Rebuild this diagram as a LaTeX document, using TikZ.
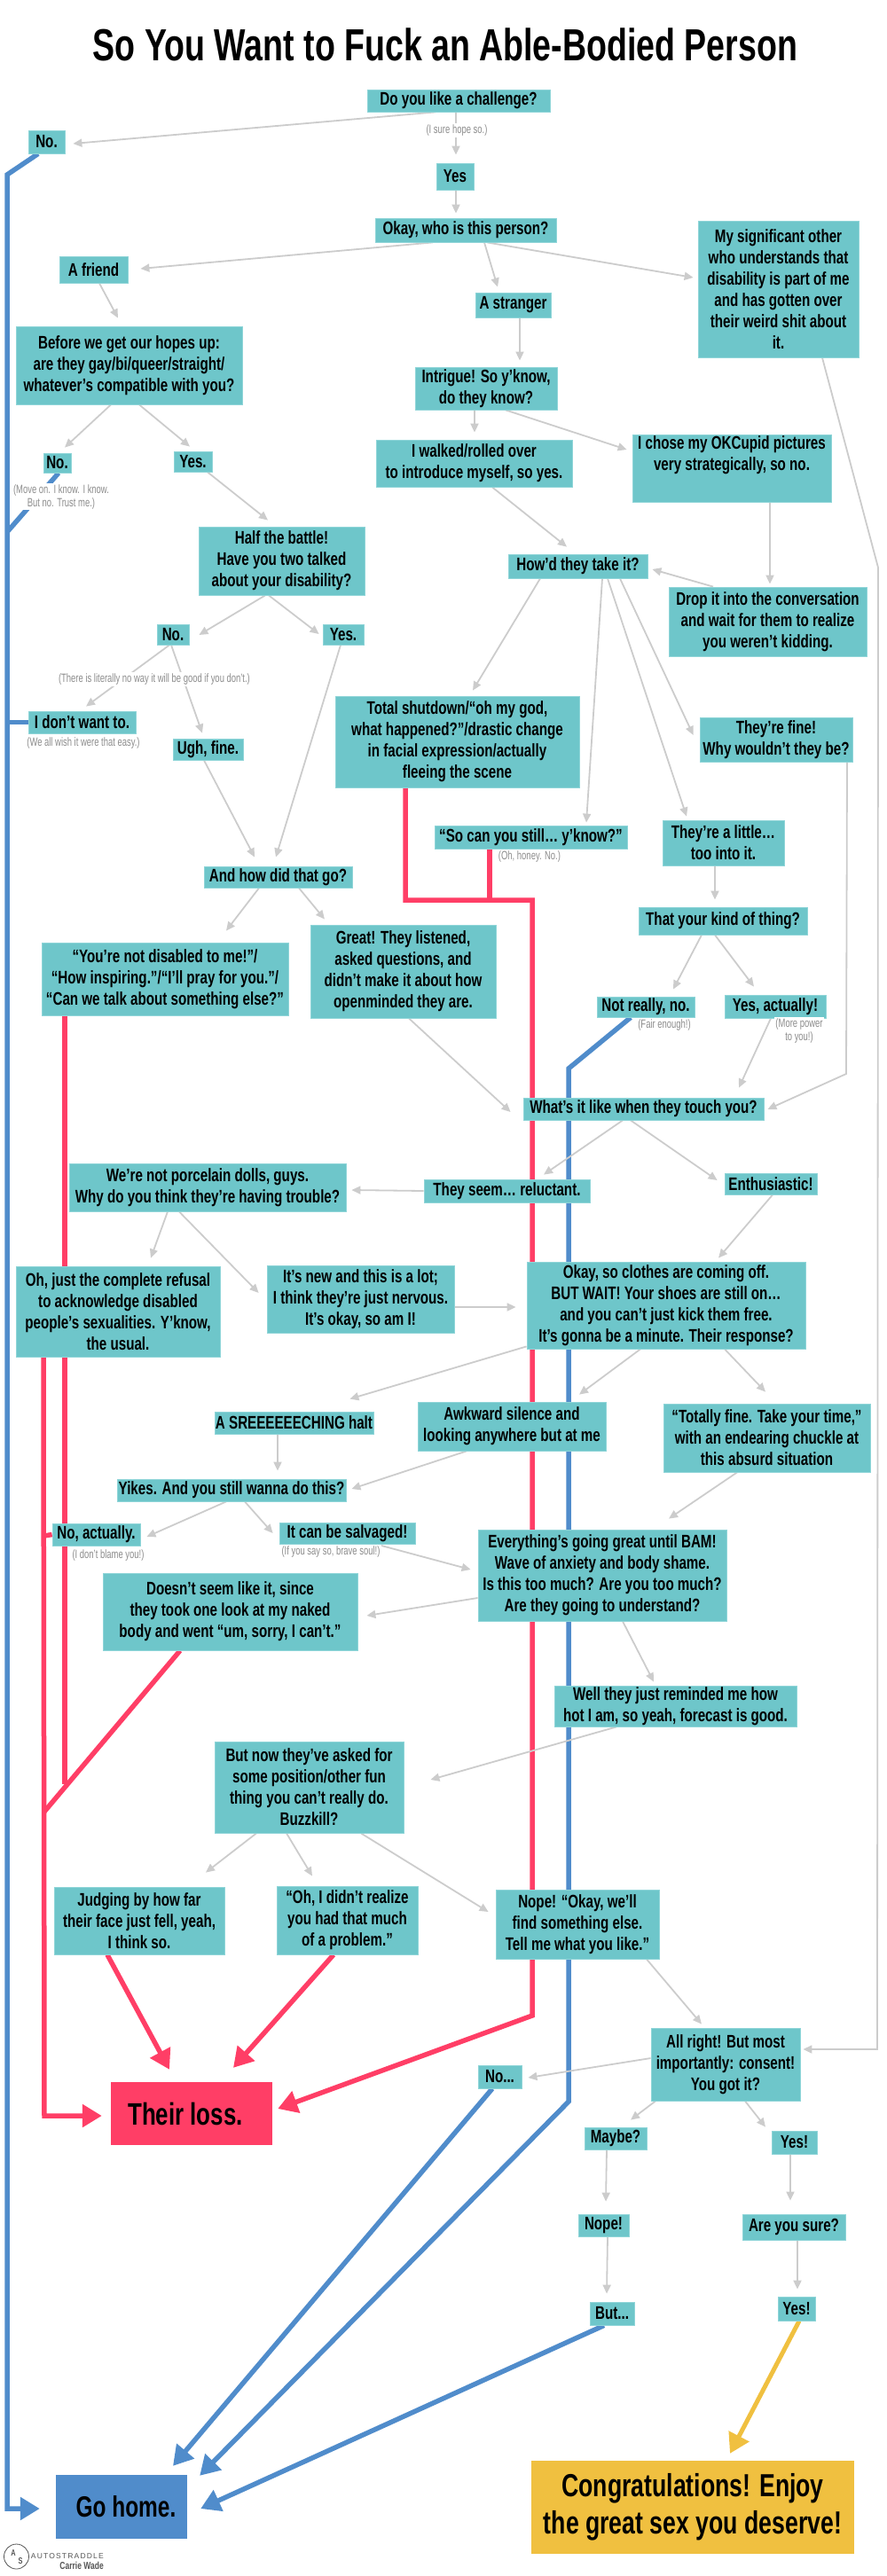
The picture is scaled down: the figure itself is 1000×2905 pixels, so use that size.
\documentclass[tikz,border=0pt]{standalone}
\usepackage{fontspec}
\setmainfont{Liberation Sans}[UprightFont=* Bold,FakeStretch=0.74]
\newfontfamily\notefont{Liberation Sans}[FakeStretch=0.7]
\newfontfamily\brandfont{Liberation Sans}[LetterSpace=14]
\usetikzlibrary{arrows.meta,backgrounds}
\definecolor{tealx}{HTML}{6EC6CA}
\definecolor{edgex}{HTML}{8FD5D8}
\definecolor{greyx}{HTML}{CCCCCC}
\definecolor{bluex}{HTML}{508CCB}
\definecolor{pinkx}{HTML}{FF3E66}
\definecolor{goldx}{HTML}{F0C040}
\definecolor{notex}{HTML}{8C8C8C}
\definecolor{logox}{HTML}{555555}
\tikzset{
  wh/.style 2 args={minimum width=#1,minimum height=#2},
  box/.style={fill=tealx,draw=edgex,line width=0.8pt,inner sep=0pt,align=center,font=\fontsize{20.5}{24}\selectfont},
  big/.style={inner sep=0pt,align=center,font=\fontsize{35}{42}\selectfont},
  note/.style={fill=white,inner sep=1.5pt,align=center,text=notex,font=\notefont\fontsize{13.5}{15}\selectfont},
  ar/.style={-{Triangle[length=10pt,width=9pt]},line width=1.8pt,greyx},
  blueline/.style={line width=5.5pt,bluex},
  pinkline/.style={line width=5.5pt,pinkx},
  blueend/.style={blueline,-{Triangle[length=22pt,width=25pt]}},
  pinkend/.style={pinkline,-{Triangle[length=22pt,width=25pt]}},
  goldend/.style={line width=5pt,goldx,-{Triangle[length=22pt,width=25pt]}}
}
\begin{document}
\begin{tikzpicture}[x=1pt,y=-1pt]
\useasboundingbox (0,0) rectangle (1000,2905);
\node[inner sep=0pt,font=\fontsize{50.7}{56}\selectfont] (title) at (502,50) {So You Want to Fuck an Able-Bodied Person};
% top
\node[box,wh={206}{25}] (challenge) at (517,113.5) {Do you like a challenge?};
\node[box,wh={41}{26}] (no1) at (52.5,160) {No.};
\node[box,wh={42}{30}] (yes1) at (513,199) {Yes};
\node[box,wh={204}{27}] (okay) at (525,259.5) {Okay, who is this person?};
\node[box,wh={77}{30}] (friend) at (105.5,304) {A friend};
\node[box,wh={181}{154}] (sig) at (877.5,326) {My significant other\\who understands that\\disability is part of me\\and has gotten over\\their weird shit about\\it.};
\node[box,wh={85}{28}] (stranger) at (578.5,344) {A stranger};
\node[box,wh={255}{88}] (before) at (145.5,412) {Before we get our hopes up:\\are they gay/bi/queer/straight/\\whatever’s compatible with you?};
\node[box,wh={160}{48}] (intrigue) at (548,438) {Intrigue! So y’know,\\do they know?};
\node[box,wh={31}{22}] (no2) at (64.5,522) {No.};
\node[box,wh={43}{23}] (yes2) at (217.5,520.5) {Yes.};
\node[box,wh={221}{53}] (walked) at (534.5,522.5) {I walked/rolled over\\to introduce myself, so yes.};
\node[box,wh={224}{76}] (okc) at (825,528) {I chose my OKCupid pictures\\very strategically, so no.\\[10pt]};
% middle
\node[box,wh={187}{77}] (half) at (317.5,632.5) {Half the battle!\\Have you two talked\\about your disability?};
\node[box,wh={157}{27}] (hows) at (651.5,638.5) {How’d they take it?};
\node[box,wh={223}{78}] (drop) at (865.5,701) {Drop it into the conversation\\and wait for them to realize\\you weren’t kidding.};
\node[box,wh={36}{23}] (no3) at (195,715.5) {No.};
\node[box,wh={46}{23}] (yes3) at (387,715.5) {Yes.};
\node[box,wh={121}{25}] (idont) at (92.5,814.5) {I don’t want to.};
\node[box,wh={79}{24}] (ugh) at (234.5,845) {Ugh, fine.};
\node[box,wh={275}{103}] (total) at (515.5,836.5) {Total shutdown/“oh my god,\\what happened?”/drastic change\\in facial expression/actually\\fleeing the scene};
\node[box,wh={172}{50}] (fine) at (875,834) {They’re fine!\\Why wouldn’t they be?};
\node[box,wh={217}{26}] (socan) at (598.5,944) {“So can you still… y’know?”};
\node[box,wh={137}{51}] (little) at (815.5,950.5) {They’re a little…\\too into it.};
\node[box,wh={167}{24}] (andhow) at (313.5,989) {And how did that go?};
\node[box,wh={209}{105}] (great) at (454.5,1095.5) {Great! They listened,\\asked questions, and\\didn’t make it about how\\openminded they are.};
\node[box,wh={278}{82}] (notdis) at (186,1104) {“You’re not disabled to me!”/\\“How inspiring.”/“I’ll pray for you.”/\\“Can we talk about something else?”};
\node[box,wh={190}{31}] (kind) at (815,1038.5) {That your kind of thing?};
\node[box,wh={110}{23}] (notreally) at (728,1135.5) {Not really, no.};
\node[box,wh={114}{26}] (yesact) at (874,1135) {Yes, actually!};
\node[box,wh={271}{25}] (touch) at (725.5,1250.5) {What’s it like when they touch you?};
\node[box,wh={187}{26}] (reluct) at (571.5,1343) {They seem… reluctant.};
\node[box,wh={312}{54}] (porcelain) at (234,1339) {We’re not porcelain dolls, guys.\\Why do you think they’re having trouble?};
\node[box,wh={104}{24}] (enth) at (869,1335) {Enthusiastic!};
\node[box,wh={230}{102}] (refusal) at (133,1479) {Oh, just the complete refusal\\to acknowledge disabled\\people’s sexualities. Y’know,\\the usual.};
\node[box,wh={211}{76}] (new) at (406.5,1465) {It’s new and this is a lot;\\I think they’re just nervous.\\It’s okay, so am I!};
\node[box,wh={314}{98}] (clothes) at (751,1472) {Okay, so clothes are coming off.\\BUT WAIT! Your shoes are still on…\\and you can’t just kick them free.\\It’s gonna be a minute. Their response?};
\node[box,wh={179}{25}] (halt) at (331.5,1604.5) {A SREEEEEECHING halt};
\node[box,wh={212}{55}] (awkward) at (577,1608.5) {Awkward silence and\\looking anywhere but at me};
\node[box,wh={233}{77}] (totally) at (864.5,1621.5) {“Totally fine. Take your time,”\\with an endearing chuckle at\\this absurd situation};
\node[box,wh={258}{25}] (yikes) at (261,1680.5) {Yikes. And you still wanna do this?};
\node[box,wh={99}{25}] (noactual) at (108.5,1730.5) {No, actually.};
\node[box,wh={153}{24}] (salvage) at (391.5,1729) {It can be salvaged!};
\node[box,wh={280}{103}] (everything) at (679,1776.5) {Everything’s going great until BAM!\\Wave of anxiety and body shame.\\Is this too much? Are you too much?\\Are they going to understand?};
\node[box,wh={287}{87}] (doesnt) at (259.5,1817.5) {Doesn’t seem like it, since\\they took one look at my naked\\body and went “um, sorry, I can’t.”};
\node[box,wh={273}{46}] (well) at (761.5,1924) {Well they just reminded me how\\hot I am, so yeah, forecast is good.};
\node[box,wh={213}{103}] (now) at (348.5,2015.5) {But now they’ve asked for\\some position/other fun\\thing you can’t really do.\\Buzzkill?};
\node[box,wh={192}{76}] (judging) at (157,2166) {Judging by how far\\their face just fell, yeah,\\I think so.};
\node[box,wh={159}{77}] (ohdidnt) at (391.5,2165.5) {“Oh, I didn’t realize\\you had that much\\of a problem.”};
\node[box,wh={184}{78}] (nope) at (651,2170) {Nope! “Okay, we’ll\\find something else.\\Tell me what you like.”};
% bottom
\node[box,wh={168}{82}] (consent) at (818,2328) {All right! But most\\importantly: consent!\\You got it?};
\node[box,wh={49}{26}] (no4) at (563.5,2342) {No...};
\node[big,fill=pinkx,minimum width=182,minimum height=71] (loss) at (216,2383.5) {\hspace*{-14pt}Their loss.};
\node[box,wh={70}{25}] (maybe) at (694,2411.5) {Maybe?};
\node[box,wh={51}{26}] (yes4) at (895.5,2416) {Yes!};
\node[box,wh={57}{25}] (nope2) at (680.5,2509.5) {Nope!};
\node[box,wh={116}{29}] (sure) at (895,2511.5) {Are you sure?};
\node[box,wh={50}{26}] (but) at (690,2609) {But...};
\node[box,wh={42}{27}] (yes5) at (898,2603.5) {Yes!};
\node[big,fill=bluex,minimum width=148,minimum height=72,font=\fontsize{33}{42}\selectfont] (home) at (137,2827) {\hspace*{10pt}Go home.};
\node[big,fill=goldx,minimum width=364,minimum height=105,font=\fontsize{36}{42}\selectfont] (congrats) at (781,2827.5) {Congratulations! Enjoy\\the great sex you deserve!};
% side remarks
\node[note] (n1) at (515,147) {(I sure hope so.)};
\node[note] (n2) at (69,560) {(Move on. I know. I know.\\But no. Trust me.)};
\node[note] (n3) at (174,766) {(There is literally no way it will be good if you don’t.)};
\node[note] (n4) at (94,838) {(We all wish it were that easy.)};
\node[note] (n5) at (597,966) {(Oh, honey. No.)};
\node[note] (n6) at (749,1156) {(Fair enough!)};
\node[note] (n7) at (901,1162) {(More power\\to you!)};
\node[note] (n8) at (122,1754) {(I don’t blame you!)};
\node[note] (n9) at (373,1750) {(If you say so, brave soul!)};
% credit
\node[circle,draw=logox,line width=0.8pt,minimum size=28,inner sep=0pt] (logo) at (18.5,2883) {};
\node[text=logox,inner sep=0pt,font=\bfseries\fontsize{10}{10}\selectfont] (logoa) at (15,2879) {A};
\node[text=logox,inner sep=0pt,font=\bfseries\fontsize{10}{10}\selectfont] (logos) at (23,2888) {S};
\node[text=logox,inner sep=0pt,anchor=east,font=\brandfont\fontsize{8.5}{9}\selectfont] (brand) at (117,2883) {AUTOSTRADDLE};
\node[text=logox,inner sep=0pt,anchor=east,font=\fontsize{11.5}{12}\selectfont] (artist) at (117,2893.5) {Carrie Wade};
% bends
\coordinate (sigA) at (990,640);
\coordinate (sigB) at (989,2311);
\coordinate (fineA) at (954,1211);
\coordinate (blueA) at (8,197);
\coordinate (blueB) at (8,2829);
\coordinate (blueC) at (8,600);
\coordinate (blueD) at (8,814.5);
\coordinate (blueE) at (641,1205);
\coordinate (blueF) at (641,2370);
\coordinate (pinkA) at (457,1015);
\coordinate (pinkB) at (600,1015);
\coordinate (pinkC) at (600,2273);
\coordinate (pinkD) at (552,1015);
\coordinate (pinkE) at (73,2012);
\coordinate (pinkF) at (50,2043);
\coordinate (pinkG) at (50,2386);
\coordinate (pinkH) at (50,1732);
\begin{scope}[on background layer]
% dead ends
\draw[blueend] ([xshift=-9.5]no1.south) -- (blueA) -- (blueB) -- ([xshift=-18,yshift=-2]home.west);
\draw[blueline] ([xshift=1.5]no2.south) -- (blueC);
\draw[blueline] (idont.west) -- (blueD);
\draw[blueend] ([xshift=-17]notreally.south) -- (blueE) -- (blueF) -- ([xshift=14,yshift=-1]home.north east);
\draw[blueend] ([xshift=-8.5]no4.south) -- ([xshift=58,yshift=10]home.north);
\draw[blueend] ([xshift=-9]but.south) -- ([xshift=15,yshift=-2]home.east);
\draw[pinkend] ([xshift=-58.5]total.south) -- (pinkA) -- (pinkB) -- (pinkC) -- ([xshift=6,yshift=5.5]loss.east);
\draw[pinkline] ([xshift=-46.5]socan.south) -- (pinkD);
\draw[pinkline] ([xshift=-113]notdis.south) -- (pinkE);
\draw[pinkline] ([xshift=-56.5]doesnt.south) -- (pinkF);
\draw[pinkend] ([xshift=-84]refusal.south) -- (pinkG) -- ([xshift=-10,yshift=-2.5]loss.west);
\draw[pinkline] (noactual.west) -- (pinkH);
\draw[pinkend] ([xshift=-36]judging.south) -- ([xshift=-25,yshift=14]loss.north);
\draw[pinkend] ([xshift=-15.5]ohdidnt.south) -- ([xshift=47,yshift=16]loss.north);
\draw[goldend] ([xshift=3]yes5.south) -- ([xshift=42,yshift=8]congrats.north);
% thin arrows
\draw[ar] ([xshift=-26]challenge.south) -- ([xshift=9,yshift=-2]no1.east);
\draw[ar] ([xshift=-3]challenge.south) -- ([xshift=1,yshift=9]yes1.north);
\draw[ar] ([xshift=1]yes1.south) -- ([xshift=-11,yshift=5]okay.north);
\draw[ar] ([xshift=-37]okay.south) -- ([xshift=14,yshift=1]friend.east);
\draw[ar] ([xshift=21]okay.south) -- ([xshift=-17.5,yshift=6]stranger.north);
\draw[ar] ([xshift=24]okay.south) -- ([xshift=-5,yshift=13]sig.west);
\draw[ar] ([xshift=6.5]friend.south) -- ([xshift=-12.5,yshift=9]before.north);
\draw[ar] ([xshift=7.5]stranger.south) -- ([xshift=38,yshift=7]intrigue.north);
\draw[ar] ([xshift=-20.5]before.south) -- ([xshift=8.5,yshift=6]no2.north);
\draw[ar] ([xshift=11.5]before.south) -- ([xshift=-3.5,yshift=5]yes2.north);
\draw[ar] ([xshift=-13]intrigue.south) -- ([xshift=0.5,yshift=8]walked.north);
\draw[ar] ([xshift=22]intrigue.south) -- ([xshift=-6,yshift=21]okc.west);
\draw[ar] ([xshift=20.5]walked.south) -- ([xshift=-12.5,yshift=8]hows.north);
\draw[ar] ([xshift=43]okc.south) -- ([xshift=2.5,yshift=3]drop.north);
\draw[ar] ([xshift=49.5]sig.south) -- (sigA) -- (sigB) -- ([xshift=3,yshift=17]consent.east);
\draw[ar] ([xshift=16.5]yes2.south) -- ([xshift=-15.5,yshift=7]half.north);
\draw[ar] ([xshift=-18.5]half.south) -- ([xshift=11,yshift=-0.5]no3.east);
\draw[ar] ([xshift=-14.5]half.south) -- ([xshift=-4,yshift=0.5]yes3.west);
\draw[ar] ([xshift=-4]no3.south) -- ([xshift=4.5,yshift=5]idont.north);
\draw[ar] ([xshift=-2]no3.south) -- ([xshift=-6.5,yshift=6]ugh.north);
\draw[ar] ([xshift=-3]yes3.south) -- ([xshift=-2.5,yshift=10]andhow.north);
\draw[ar] ([xshift=-4.5]ugh.south) -- ([xshift=-26.5,yshift=10]andhow.north);
\draw[ar] ([xshift=-42.5]hows.south) -- ([xshift=17.5,yshift=6]total.north);
\draw[ar] ([xshift=27.5]hows.south) -- ([xshift=62.5,yshift=3]socan.north);
\draw[ar] ([xshift=33.5]hows.south) -- ([xshift=-41.5,yshift=4]little.north);
\draw[ar] ([xshift=47.5]hows.south) -- ([xshift=-7,yshift=5]fine.west);
\draw[ar] ([xshift=-61.5]drop.north) -- ([xshift=5,yshift=-3.5]hows.east);
\draw[ar] ([xshift=-9.5]little.south) -- ([xshift=-9,yshift=8]kind.north);
\draw[ar] ([xshift=-24]kind.south) -- ([xshift=31,yshift=8]notreally.north);
\draw[ar] ([xshift=-9]kind.south) -- ([xshift=-24,yshift=9]yesact.north);
\draw[ar] ([xshift=80]fine.south) -- (fineA) -- ([xshift=4,yshift=-0.5]touch.east);
\draw[ar] ([xshift=-5]yesact.south) -- ([xshift=107.5,yshift=11]touch.north);
\draw[ar] ([xshift=6.5]great.south) -- ([xshift=-14,yshift=-3.5]touch.west);
\draw[ar] ([xshift=-21.5]andhow.south) -- ([xshift=69,yshift=13]notdis.north);
\draw[ar] ([xshift=23.5]andhow.south) -- ([xshift=-88.5,yshift=6]great.north);
\draw[ar] ([xshift=-23.5]touch.south) -- ([xshift=41.5,yshift=5]reluct.north);
\draw[ar] ([xshift=-14.5]touch.south) -- ([xshift=-8,yshift=4]enth.west);
\draw[ar] (reluct.west) -- ([xshift=6,yshift=-3]porcelain.east);
\draw[ar] ([xshift=-45]porcelain.south) -- ([xshift=37,yshift=9]refusal.north);
\draw[ar] ([xshift=-32]porcelain.south) -- ([xshift=-9,yshift=7]new.west);
\draw[ar] ([xshift=2]enth.south) -- ([xshift=59,yshift=4]clothes.north);
\draw[ar] ([yshift=-9]new.east) -- ([xshift=-12,yshift=-2]clothes.west);
\draw[ar] ([yshift=3]clothes.south west) -- ([xshift=-27,yshift=14]halt.north east);
\draw[ar] ([xshift=-29]clothes.south) -- ([xshift=76,yshift=8]awkward.north);
\draw[ar] ([xshift=66]clothes.south) -- ([xshift=-1.5,yshift=13]totally.north);
\draw[ar] ([xshift=-18.5]halt.south) -- ([xshift=52,yshift=9]yikes.north);
\draw[ar] ([xshift=-51]awkward.south) -- ([xshift=6,yshift=1.5]yikes.east);
\draw[ar] ([xshift=-33.5]totally.south) -- ([xshift=75,yshift=12]everything.north);
\draw[ar] ([xshift=-6]yikes.south) -- ([xshift=7,yshift=-2.5]noactual.east);
\draw[ar] ([xshift=15]yikes.south) -- ([xshift=-7]salvage.west);
\draw[ar] ([xshift=32.5]salvage.south) -- ([xshift=-8,yshift=6.5]everything.west);
\draw[ar] ([yshift=-25.5]everything.west) -- ([xshift=10,yshift=-4.5]doesnt.east);
\draw[ar] ([xshift=23]everything.south) -- ([xshift=-24.5,yshift=4]well.north);
\draw[ar] ([xshift=-66.5]well.south) -- ([xshift=30,yshift=8.5]now.east);
\draw[ar] ([xshift=-59.5]now.south) -- ([xshift=75,yshift=16]judging.north);
\draw[ar] ([xshift=-25.5]now.south) -- ([xshift=-39.5,yshift=11]ohdidnt.north);
\draw[ar] ([xshift=58.5]now.south) -- ([xshift=-8,yshift=14]nope.west);
\draw[ar] ([xshift=78]nope.south) -- ([xshift=-27,yshift=4]consent.north);
\draw[ar] ([yshift=7]consent.west) -- ([xshift=7,yshift=-1]no4.east);
\draw[ar] ([xshift=-79]consent.south) -- ([xshift=17,yshift=8]maybe.north);
\draw[ar] ([xshift=22]consent.south) -- ([xshift=-32.5,yshift=4]yes4.north);
\draw[ar] ([xshift=-10]maybe.south) -- ([xshift=2.5,yshift=14]nope2.north);
\draw[ar] ([xshift=-4.5]yes4.south) -- ([xshift=-4,yshift=15]sure.north);
\draw[ar] ([xshift=4.5]nope2.south) -- ([xshift=-6,yshift=9]but.north);
\draw[ar] ([xshift=4]sure.south) -- ([xshift=1,yshift=8]yes5.north);
\end{scope}
\end{tikzpicture}
\end{document}
